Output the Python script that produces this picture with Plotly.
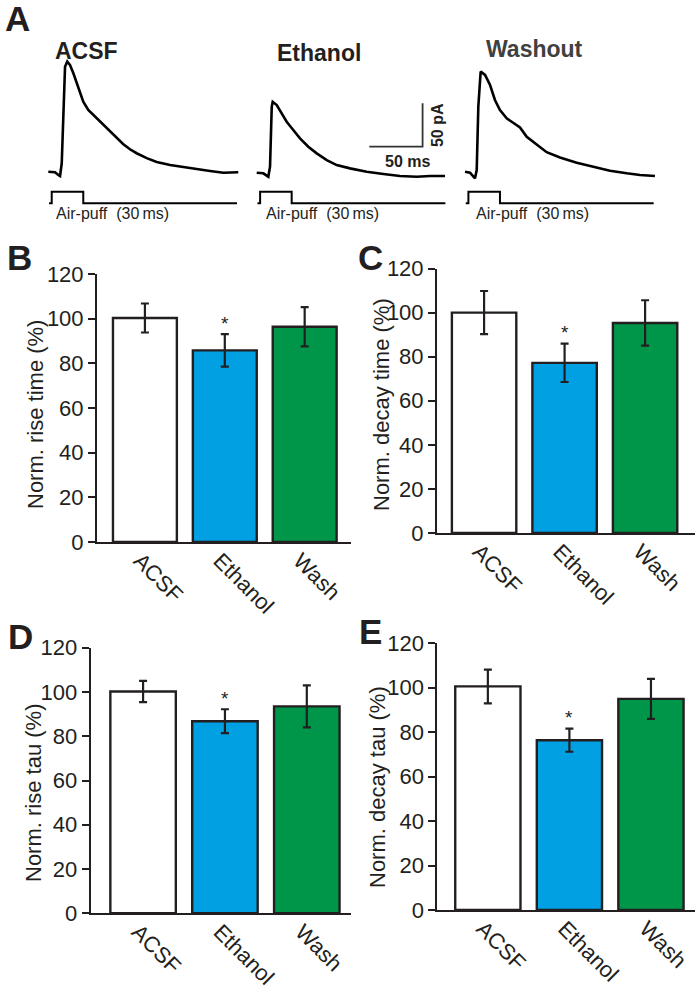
import plotly.graph_objects as go

# ---------------- data ----------------
CONDITIONS = ["ACSF", "Ethanol", "Wash"]
BAR_COLORS = ["#FFFFFF", "#00A0E3", "#00964A"]

RISE_TIME_MEAN = [100.3, 85.8, 96.4]
RISE_TIME_SEM = [6.5, 7.3, 8.8]
DECAY_TIME_MEAN = [100.0, 77.2, 95.3]
DECAY_TIME_SEM = [9.8, 8.7, 10.3]
RISE_TAU_MEAN = [100.2, 86.8, 93.5]
RISE_TAU_SEM = [4.8, 5.4, 9.5]
DECAY_TAU_MEAN = [100.6, 76.4, 95.0]
DECAY_TAU_SEM = [7.6, 5.2, 9.0]
Y_TICKS = [0, 20, 40, 60, 80, 100, 120]

# example EPSC traces (time in ms, current in pA)
ACSF_T = [0, 6.3, 9.4, 11, 12.6, 14.1, 15.7, 17.8, 20.4, 23.5, 26.6, 29.7, 32.8, 37.5, 42.2,
          46.9, 51.6, 57.9, 64.2, 70.4, 76.6, 82.9, 92.3, 101.7, 114.2, 126.6, 139.2, 151.7,
          164.2, 178.2]
ACSF_I = [0, -0.7, -3.8, -5, 9.7, 75, 121, 127, 123, 113.5, 102, 90.4, 80.7, 71.2, 65.4,
          59.6, 54.5, 46.7, 38.6, 31.7, 25.9, 21.3, 15.6, 11.2, 7.7, 5.8, 3.1, 0.8, -1.2, -0.7]

ETH_T = [0, 6.2, 10.9, 12.5, 14.1, 15, 18.8, 23.5, 28.1, 34.3, 40.6, 48.4, 56.3, 65.7, 75,
         87.5, 103.2, 118.8, 134.4, 150.1, 162.6, 176.6]
ETH_I = [0, -0.7, -4.6, 6.9, 76, 81.8, 78, 68.4, 58.8, 49.2, 39.6, 30, 22.3, 14.6, 8.8,
         5, 1.2, -1.5, -3.8, -4.6, -3.8, -3.8]

WASH_T = [0, 4.7, 9.4, 11, 12.5, 14.7, 18.8, 23.5, 28.1, 32.8, 39.1, 45.3, 51.6, 57.9, 67.3,
          76.6, 89.1, 104.8, 120.4, 136, 151.7, 164.2, 178.2]
WASH_I = [0.3, -0.8, -7.3, 2.3, 75.4, 115.7, 111.9, 100.3, 83, 71.5, 61.9, 56.9, 51.4, 40.5,
          31.1, 22.8, 16.8, 10.7, 6.1, 1.5, -1.5, -3.5, -4.6]

PUFF_T = [0.7, 3.2, 3.2, 32.8, 32.8, 177]
PUFF_LEVEL = [0, 0, 1, 1, 0, 0]

SCALE_MS = 50
SCALE_PA = 50

# ---------------- helpers ----------------
W, H = 700, 998
INK = "#231F20"
FONT = "Liberation Sans, Arial, sans-serif"


def fx(px):
    return px / W


def fy(py):
    return 1 - py / H


fig = go.Figure()

# ---------------- bar panels ----------------
panels = [
    (1, RISE_TIME_MEAN, RISE_TIME_SEM, "Norm. rise time (%)", (97, 351), (274, 542), (-0.6, 2.58), (35, 415)),
    (2, DECAY_TIME_MEAN, DECAY_TIME_SEM, "Norm. decay time (%)", (437, 695), (268.5, 533), (-0.585, 2.62), (381, 405)),
    (3, RISE_TAU_MEAN, RISE_TAU_SEM, "Norm. rise tau (%)", (90.7, 351), (647.7, 913.3), (-0.64, 2.54), (33, 793)),
    (4, DECAY_TAU_MEAN, DECAY_TAU_SEM, "Norm. decay tau (%)", (437.3, 695), (643.3, 910), (-0.62, 2.54), (377, 787)),
]

layout_axes = {}
annotations = []
for idx, mean, sem, title, (x0, x1), (ytop, ybot), xr, (tx, ty) in panels:
    xa = "x" if idx == 1 else f"x{idx}"
    ya = "y" if idx == 1 else f"y{idx}"
    fig.add_trace(go.Bar(
        x=CONDITIONS, y=mean, xaxis=xa, yaxis=ya, width=0.8,
        marker=dict(color=BAR_COLORS, line=dict(color=INK, width=2.4)),
        error_y=dict(type="data", array=sem, color=INK, thickness=2.2, width=4),
        showlegend=False, hoverinfo="skip",
    ))
    xname = "xaxis" if idx == 1 else f"xaxis{idx}"
    yname = "yaxis" if idx == 1 else f"yaxis{idx}"
    layout_axes[xname] = dict(
        domain=[fx(x0), fx(x1)], anchor=ya, type="category", range=list(xr), automargin=False,
        showline=True, linewidth=2, linecolor=INK, ticks="", showgrid=False, zeroline=False,
        tickangle=45, ticklabelstandoff=-5, ticklabelshift=-5,
        tickfont=dict(size=22, color=INK, family=FONT),
    )
    layout_axes[yname] = dict(
        domain=[fy(ybot), fy(ytop)], anchor=xa, range=[0, 120], tickvals=Y_TICKS, automargin=False,
        showline=True, linewidth=2, linecolor=INK, ticks="outside", ticklen=7, tickwidth=2,
        tickcolor=INK, showgrid=False, zeroline=False,
        tickfont=dict(size=22, color=INK, family=FONT),
    )
    annotations.append(dict(
        text=title, textangle=-90, x=fx(tx), y=fy(ty), xref="paper", yref="paper",
        xanchor="center", yanchor="middle",
        showarrow=False, font=dict(size=22, color=INK, family=FONT),
    ))
    annotations.append(dict(
        text="*", x="Ethanol", y=mean[1] + sem[1], xref=xa, yref=ya, yanchor="middle",
        yshift=11, showarrow=False, font=dict(size=19, color=INK, family=FONT),
    ))

# ---------------- panel A traces ----------------
trace_sets = [
    (5, 5, 8, ACSF_T, ACSF_I, "ACSF", (40, 250), (-7.79, 189.2), (-21.1, 151.9), 53, 51, INK),
    (6, 6, 9, ETH_T, ETH_I, "Ethanol", (250, 460), (-6.29, 190.7), (-19.95, 153.1), 275, 53, INK),
    (7, 7, 10, WASH_T, WASH_I, "Washout", (460, 680), (-4.69, 201.7), (-20.76, 152.2), 484, 49, "#404040"),
]
for xi, yi, si, t, cur, name, (x0, x1), tr, ir, ttx, tty, tcol in trace_sets:
    fig.add_trace(go.Scatter(
        x=t, y=cur, xaxis=f"x{xi}", yaxis=f"y{yi}", mode="lines",
        line=dict(color="#000000", width=2.6), showlegend=False, hoverinfo="skip",
    ))
    fig.add_trace(go.Scatter(
        x=PUFF_T, y=PUFF_LEVEL, xaxis=f"x{xi}", yaxis=f"y{si}", mode="lines",
        line=dict(color="#000000", width=2), showlegend=False, hoverinfo="skip",
    ))
    layout_axes[f"xaxis{xi}"] = dict(domain=[fx(x0), fx(x1)], range=list(tr), visible=False,
                                     anchor=f"y{yi}", automargin=False)
    layout_axes[f"yaxis{yi}"] = dict(domain=[fy(190), fy(40)], range=list(ir), visible=False,
                                     anchor=f"x{xi}", automargin=False)
    layout_axes[f"yaxis{si}"] = dict(domain=[fy(210), fy(185)], range=[-0.58, 1.58], visible=False,
                                     anchor=f"x{xi}", automargin=False)
    annotations.append(dict(
        text=f"<b>{name}</b>", x=fx(ttx), y=fy(tty), xref="paper", yref="paper",
        xanchor="left", yanchor="middle", showarrow=False,
        font=dict(size=23, color=tcol, family=FONT),
    ))
    annotations.append(dict(
        text="Air-puff&#160;&#160;(30&#8201;ms)", x=fx(x0 + 14), y=fy(213), xref="paper", yref="paper",
        xanchor="left", yanchor="middle", showarrow=False,
        font=dict(size=16, color=INK, family=FONT),
    ))

# scale bar in Ethanol axes
sb_t0, sb_i0 = 105.6, 30
fig.add_trace(go.Scatter(
    x=[sb_t0, sb_t0 + SCALE_MS, sb_t0 + SCALE_MS], y=[sb_i0, sb_i0, sb_i0 + SCALE_PA],
    xaxis="x6", yaxis="y6", mode="lines", line=dict(color="#333333", width=1.8),
    showlegend=False, hoverinfo="skip",
))
annotations.append(dict(
    text=f"<b>{SCALE_MS} ms</b>", x=sb_t0 + SCALE_MS / 2 + 11, y=sb_i0, xref="x6", yref="y6",
    yanchor="top", yshift=-4, showarrow=False, font=dict(size=16, color=INK, family=FONT),
))
annotations.append(dict(
    text=f"<b>{SCALE_PA} pA</b>", x=sb_t0 + SCALE_MS, y=sb_i0 + SCALE_PA / 2, xref="x6", yref="y6",
    xanchor="left", xshift=4, textangle=-90, showarrow=False,
    font=dict(size=16, color=INK, family=FONT),
))

# panel letters
for letter, lx, ly in [("A", 17, 19), ("B", 19, 258), ("C", 370, 257), ("D", 20, 636), ("E", 370, 631)]:
    annotations.append(dict(
        text=f"<b>{letter}</b>", x=fx(lx), y=fy(ly), xref="paper", yref="paper",
        xanchor="center", yanchor="middle", showarrow=False,
        font=dict(size=35, color=INK, family=FONT),
    ))

fig.update_layout(
    width=W, height=H, margin=dict(l=0, r=0, t=0, b=0, autoexpand=False),
    paper_bgcolor="white", plot_bgcolor="rgba(0,0,0,0)",
    font=dict(family=FONT, color=INK),
    annotations=annotations, bargap=0.2, showlegend=False,
    **layout_axes,
)

fig.write_html(
    "out.html",
    config={"displayModeBar": False, "staticPlot": True},
    post_script="document.body.style.margin='0';document.body.style.overflow='hidden';",
)
